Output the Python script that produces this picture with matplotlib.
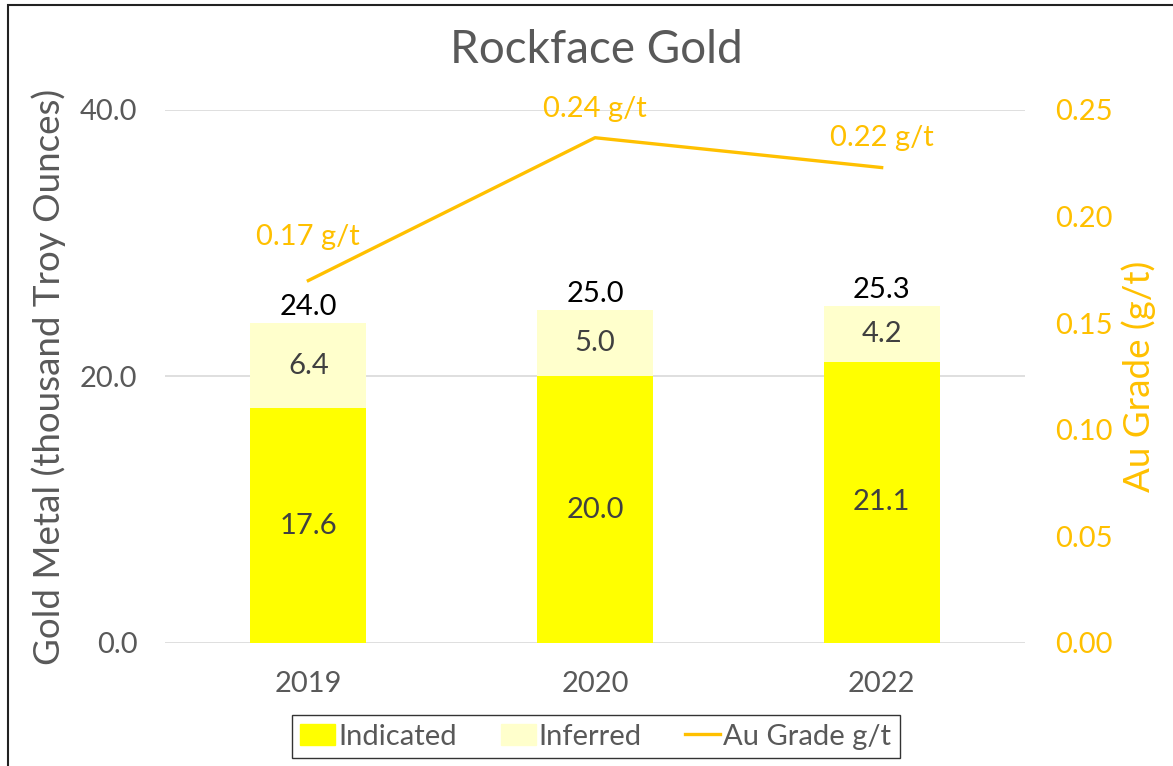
import matplotlib.pyplot as plt
import numpy as np
from matplotlib.patches import Rectangle
from matplotlib.lines import Line2D

plt.rcParams["font.family"] = ["Lato", "DejaVu Sans"]

years = ["2019", "2020", "2022"]
indicated = [17.6, 20.0, 21.1]
inferred = [6.4, 5.0, 4.2]
totals = [24.0, 25.0, 25.3]
grade = [0.170, 0.237, 0.223]
grade_labels = ["0.17 g/t", "0.24 g/t", "0.22 g/t"]

GREY = "#595959"
GOLD = "#FFC000"
YEL = "#FFFF00"
PALE = "#FFFFCC"
FS = 21

fig = plt.figure(figsize=(11.73, 7.66), dpi=100)
ax = fig.add_axes([0.1407, 0.1606, 0.7331, 0.6958])
x = np.arange(len(years))
w = 0.405

ax.bar(x, indicated, w, color=YEL, zorder=2)
ax.bar(x, inferred, w, bottom=indicated, color=PALE, zorder=2)

for i in range(len(years)):
    ax.text(x[i], indicated[i] / 2, f"{indicated[i]:.1f}", ha="center", va="center",
            fontsize=FS, color="#404040", zorder=3)
    ax.text(x[i], indicated[i] + inferred[i] / 2, f"{inferred[i]:.1f}", ha="center",
            va="center", fontsize=FS, color="#404040", zorder=3)
    ax.annotate(f"{totals[i]:.1f}", (x[i], totals[i]), xytext=(0, 2),
                textcoords="offset points", ha="center", va="bottom",
                fontsize=FS, color="black", zorder=3)

ax.set_xlim(-0.5, 2.5)
ax.set_ylim(0, 40)
ax.set_yticks([0, 20, 40])
ax.set_yticklabels(["0.0", "20.0", "40.0"])
ax.set_xticks(x)
ax.set_xticklabels(years)
ax.tick_params(axis="y", length=0, labelsize=FS, colors=GREY, pad=20)
ax.tick_params(axis="x", length=0, labelsize=FS, colors=GREY, pad=20)
ax.grid(True, axis="y", color="#D9D9D9", linewidth=1.2, zorder=0)
ax.set_axisbelow(True)
for s in ax.spines.values():
    s.set_visible(False)
ax.set_ylabel("Gold Metal (thousand Troy Ounces)", fontsize=26.5, color=GREY, labelpad=10)

ax2 = ax.twinx()
ax2.plot(x, grade, color=GOLD, linewidth=2.4, zorder=4)
ax2.set_ylim(0, 0.25)
ax2.set_yticks(np.arange(0, 0.26, 0.05))
ax2.set_yticklabels([f"{v:.2f}" for v in np.arange(0, 0.26, 0.05)])
ax2.tick_params(axis="y", length=0, labelsize=FS, colors=GOLD, pad=22)
for s in ax2.spines.values():
    s.set_visible(False)
ax2.set_ylabel("Au Grade (g/t)", fontsize=26.5, color=GOLD, labelpad=6)

offs = [31, 21, 21]
for i in range(len(years)):
    ax2.annotate(grade_labels[i], (x[i], grade[i]), xytext=(0, offs[i]),
                 textcoords="offset points", ha="center", va="center",
                 fontsize=FS, color=GOLD, zorder=5)

fig.text(0.508, 0.935, "Rockface Gold", ha="center", va="center", fontsize=33, color=GREY)

handles = [Rectangle((0, 0), 1, 1, color=YEL),
           Rectangle((0, 0), 1, 1, color=PALE),
           Line2D([0], [0], color=GOLD, linewidth=2.4)]
leg = fig.legend(handles, ["Indicated", "Inferred", "Au Grade g/t"], loc="center",
                 bbox_to_anchor=(0.508, 0.0385), ncol=3, fontsize=FS, frameon=True,
                 fancybox=False, edgecolor="black", handlelength=1.2, handleheight=0.75,
                 handletextpad=0.1, columnspacing=1.5, borderpad=0.3)
leg.get_frame().set_linewidth(1.0)
for t in leg.get_texts():
    t.set_color(GREY)

fig.add_artist(Rectangle((8 / 1173, -0.05), 1.1, 1 - 5 / 766 + 0.05,
                         transform=fig.transFigure, fill=False,
                         edgecolor="#222222", linewidth=1.5))

fig.savefig("out.png", dpi=100)
